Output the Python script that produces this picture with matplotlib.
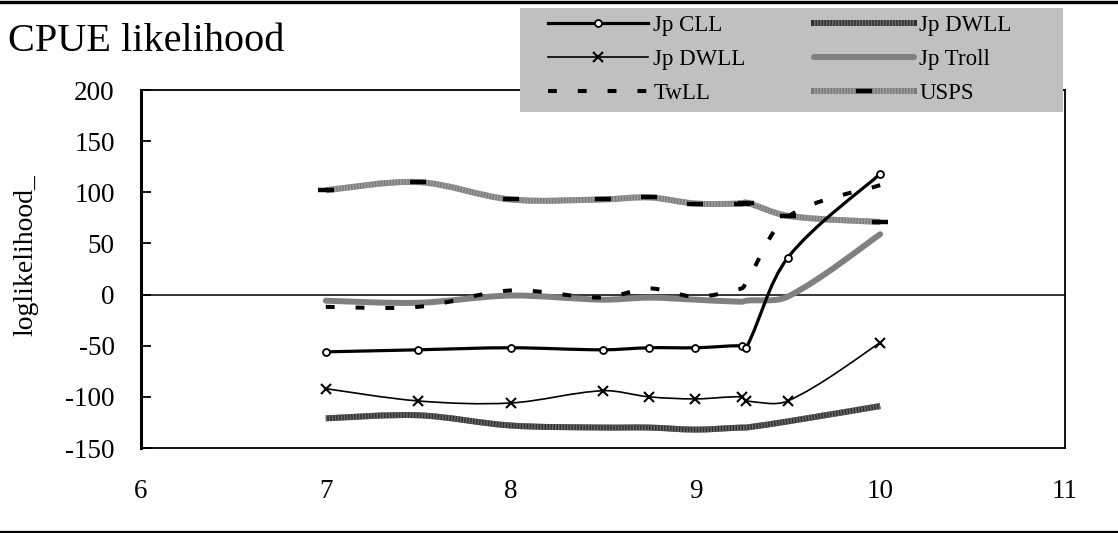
import numpy as np
import matplotlib
matplotlib.use("Agg")
import matplotlib.pyplot as plt
from matplotlib.lines import Line2D
from matplotlib.patches import PathPatch, Rectangle
from matplotlib.path import Path
from matplotlib.legend_handler import HandlerTuple

plt.rcParams['font.family'] = ['Liberation Serif', 'DejaVu Serif']
plt.rcParams['axes.unicode_minus'] = False

# x positions shared by every series
x_vals = [7, 7.5, 8, 8.5, 8.75, 9, 9.25, 9.275, 9.5, 10]

jp_cll = [-56, -54, -52, -54, -52, -52, -50, -52, 36, 118]
jp_dwll = [-92, -104, -106, -94, -100, -102, -100, -104, -104, -47]
tw_ll = [-12, -12, 4, -3, 6, -2, 6, 12, 76, 107]
jp_dwll_2 = [-121, -118, -128, -130, -130, -132, -130, -130, -124, -109]
jp_troll = [-6, -8, -1, -5, -3, -5, -7, -6, -2, 59]
us_ps = [102, 110, 93, 93, 95, 89, 89, 90, 77, 71]

series_names = ['Jp CLL', 'Jp DWLL', 'TwLL', 'Jp DWLL', 'Jp Troll', 'USPS']

x_ticks = [6, 7, 8, 9, 10, 11]
y_ticks = [-150, -100, -50, 0, 50, 100, 150, 200]

W, H = 1118, 533
fig = plt.figure(figsize=(W / 100, H / 100), dpi=100)
ax = fig.add_axes([141 / W, (H - 448) / H, (1065 - 141) / W, (448 - 90) / H])
ax.set_xlim(6, 11)
ax.set_ylim(-150, 200)
ax.set_xticks(x_ticks)
ax.set_yticks(y_ticks)
ax.tick_params(axis='y', direction='in', length=7, width=1.3, pad=19, labelsize=19.5)
ax.tick_params(axis='x', length=0, pad=22, labelsize=19.5)
for side in ['top', 'right', 'bottom']:
    ax.spines[side].set_linewidth(1.3)
ax.spines['left'].set_linewidth(2.2)
ax.axhline(0, color='black', lw=1.1, zorder=1)
ax.set_ylabel('loglikelihood_', fontsize=20)
ax.yaxis.set_label_coords(-0.1115, 0.54)


def smooth_path(xs, ys):
    # smoothed line through the points (cubic Bezier, chord-scaled tangents)
    pts = ax.transData.transform(np.column_stack([xs, ys]))
    n = len(pts)
    d = np.hypot(*np.diff(pts, axis=0).T)
    tang = []
    for i in range(n):
        if i == 0:
            tang.append((pts[1] - pts[0]) / (2 * d[0]))
        elif i == n - 1:
            tang.append((pts[-1] - pts[-2]) / (2 * d[-1]))
        else:
            tang.append((pts[i + 1] - pts[i - 1]) / (d[i - 1] + d[i]))
    verts = [pts[0]]
    codes = [Path.MOVETO]
    for i in range(n - 1):
        c1 = pts[i] + tang[i] * d[i] / 3
        c2 = pts[i + 1] - tang[i + 1] * d[i] / 3
        verts += [c1, c2, pts[i + 1]]
        codes += [Path.CURVE4] * 3
    return Path(ax.transData.inverted().transform(np.array(verts)), codes)


def curve(ys, **kw):
    patch = PathPatch(smooth_path(x_vals, ys), fill=False, joinstyle='round', **kw)
    ax.add_patch(patch)


stripe = (0, (0.25, 0.25))
dash = (0, (2.2, 5.2))
dark_base, dark_stripe = '#2e2e2e', '#6a6a6a'
grey_base, grey_stripe = '#7a7a7a', '#9e9e9e'

# grey thick series
curve(jp_dwll_2, edgecolor=dark_base, lw=4.3, zorder=3)
curve(jp_dwll_2, edgecolor=dark_stripe, lw=4.3, linestyle=stripe, zorder=3)
curve(jp_troll, edgecolor='#808080', lw=4.3, capstyle='round', zorder=3)
curve(us_ps, edgecolor=grey_base, lw=4.3, zorder=3)
curve(us_ps, edgecolor=grey_stripe, lw=4.3, linestyle=stripe, zorder=3)
ax.plot(x_vals, us_ps, linestyle='none', marker='_', ms=11, mew=3.2, color='black', zorder=6)

# black series
curve(tw_ll, edgecolor='black', lw=2.9, linestyle=dash, zorder=4)
curve(jp_dwll, edgecolor='black', lw=1.2, zorder=4)
ax.plot(x_vals, jp_dwll, linestyle='none', marker='x', ms=7, mew=1.5, color='black', zorder=6)
curve(jp_cll, edgecolor='black', lw=2.3, zorder=5)
ax.plot(x_vals, jp_cll, linestyle='none', marker='o', ms=5, mew=1.3, mfc='white', mec='black', zorder=6)

# legend handles
h_cll = Line2D([], [], color='black', lw=2.3, marker='o', ms=5, mew=1.3, mfc='white')
h_dwll = Line2D([], [], color='black', lw=1.2, marker='x', ms=7, mew=1.5)
h_tw = Line2D([], [], color='black', lw=2.9, linestyle=dash, dash_capstyle='butt')
h_dwll2 = (Line2D([], [], color=dark_base, lw=4.3),
           Line2D([], [], color=dark_stripe, lw=4.3, linestyle=stripe))
h_troll = Line2D([], [], color='#808080', lw=4.3, solid_capstyle='round')
h_usps = (Line2D([], [], color=grey_base, lw=4.3),
          Line2D([], [], color=grey_stripe, lw=4.3, linestyle=stripe),
          Line2D([], [], linestyle='none', marker='_', ms=11, mew=3.2, color='black'))

# grey legend panel
fig.add_artist(Rectangle((520 / W, 1 - 112 / H), (1063 - 520) / W, 104 / H,
                         transform=fig.transFigure, facecolor='#c0c0c0',
                         edgecolor='none', zorder=4))

leg = fig.legend([h_cll, h_dwll, h_tw, h_dwll2, h_troll, h_usps], series_names,
                 ncol=2, loc='upper left', frameon=False,
                 bbox_to_anchor=(548 / W, 1 - 15 / H),
                 bbox_transform=fig.transFigure, borderaxespad=0, borderpad=0,
                 fontsize=16.5, handlelength=4.37, handletextpad=0.22,
                 labelspacing=0.57, columnspacing=3.0,
                 handler_map={tuple: HandlerTuple(ndivide=1, pad=0)})
leg.set_zorder(5)

fig.text(8 / W, 1 - 51 / H, 'CPUE likelihood', fontsize=29, va='baseline', ha='left')

# chart border lines across top and bottom
fig.add_artist(Line2D([0, 1], [1 - 1.5 / H, 1 - 1.5 / H], color='black', lw=2.4))
fig.add_artist(Line2D([0, 1], [1.2 / H, 1.2 / H], color='black', lw=1.6))

fig.savefig('out.png', dpi=100)
